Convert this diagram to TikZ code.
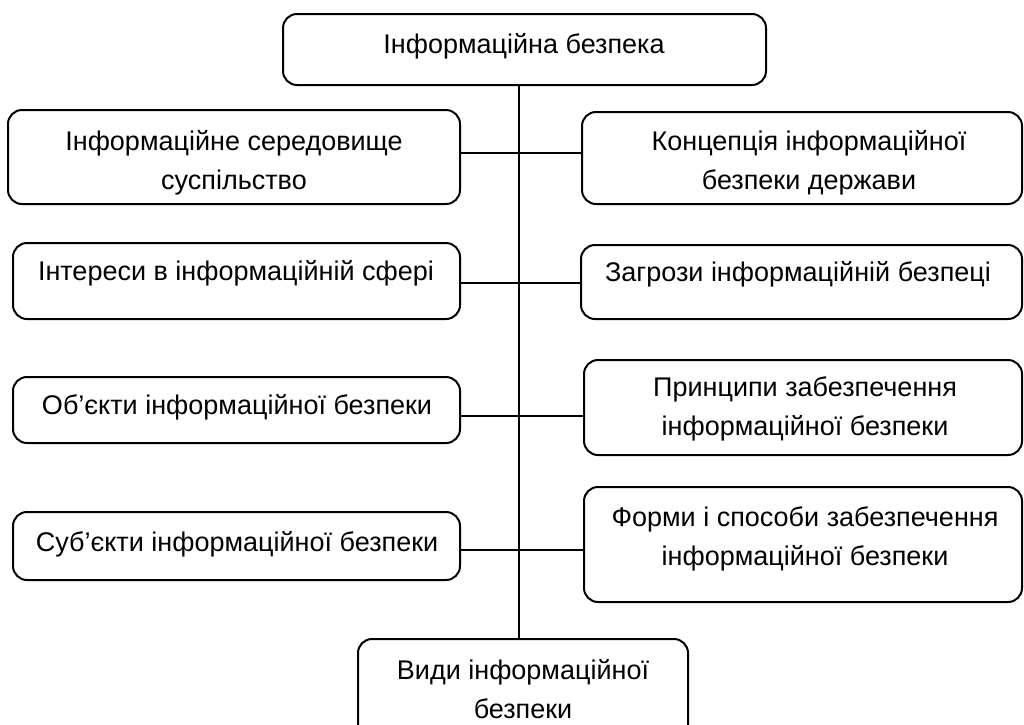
\documentclass[tikz,border=0pt]{standalone}
\usepackage{fontspec}
\setmainfont{Liberation Sans}
\begin{document}
\begin{tikzpicture}[x=1pt,y=-1pt,
  boxshape/.style={draw=black, line width=2pt, rounded corners=14pt, inner sep=0pt},
  lbl/.style={font=\fontsize{27}{39}\selectfont, align=center, inner sep=0pt},
  conn/.style={draw=black, line width=1.6pt}]
\useasboundingbox (0,0) rectangle (1024,724);
% boxes
\node[boxshape, minimum width=483pt, minimum height=71pt] (top) at (524.5,49.5) {};
\node[boxshape, minimum width=452pt, minimum height=94pt] (l1) at (234,157) {};
\node[boxshape, minimum width=440pt, minimum height=92pt] (r1) at (802,158) {};
\node[boxshape, minimum width=447pt, minimum height=76pt] (l2) at (236.5,281) {};
\node[boxshape, minimum width=441pt, minimum height=74pt] (r2) at (801.5,282) {};
\node[boxshape, minimum width=447pt, minimum height=66pt] (l3) at (236.5,410) {};
\node[boxshape, minimum width=438pt, minimum height=95pt] (r3) at (803,407.5) {};
\node[boxshape, minimum width=447pt, minimum height=68pt] (l4) at (236.5,546) {};
\node[boxshape, minimum width=438pt, minimum height=115pt] (r4) at (803,544.5) {};
\node[boxshape, minimum width=330pt, minimum height=106pt] (bot) at (523,692) {};
% texts
\node[lbl] (ttop) at (524,46) {Інформаційна безпека};
\node[lbl] (tl1) at (234,163) {Інформаційне середовище\\суспільство};
\node[lbl] (tr1) at (809,163) {Концепція інформаційної\\безпеки держави};
\node[lbl] (tl2) at (236,273) {Інтереси в інформаційній сфері};
\node[lbl] (tr2) at (798,274) {Загрози інформаційній безпеці};
\node[lbl] (tl3) at (237,407) {Об’єкти інформаційної безпеки};
\node[lbl] (tr3) at (805,409) {Принципи забезпечення\\інформаційної безпеки};
\node[lbl] (tl4) at (237,544) {Суб’єкти інформаційної безпеки};
\node[lbl] (tr4) at (805,539) {Форми і способи забезпечення\\інформаційної безпеки};
\node[lbl] (tbot) at (523,689) {Види інформаційної\\безпеки};
% connectors
\coordinate (h1) at (519,153);
\coordinate (h2) at (519,283);
\coordinate (h3) at (519,416);
\coordinate (h4) at (519,550);
\draw[conn] (top.south -| h1) -- (bot.north -| h1);
\draw[conn] (l1.east |- h1) -- (r1.west |- h1);
\draw[conn] (l2.east |- h2) -- (r2.west |- h2);
\draw[conn] (l3.east |- h3) -- (r3.west |- h3);
\draw[conn] (l4.east |- h4) -- (r4.west |- h4);
\end{tikzpicture}
\end{document}
